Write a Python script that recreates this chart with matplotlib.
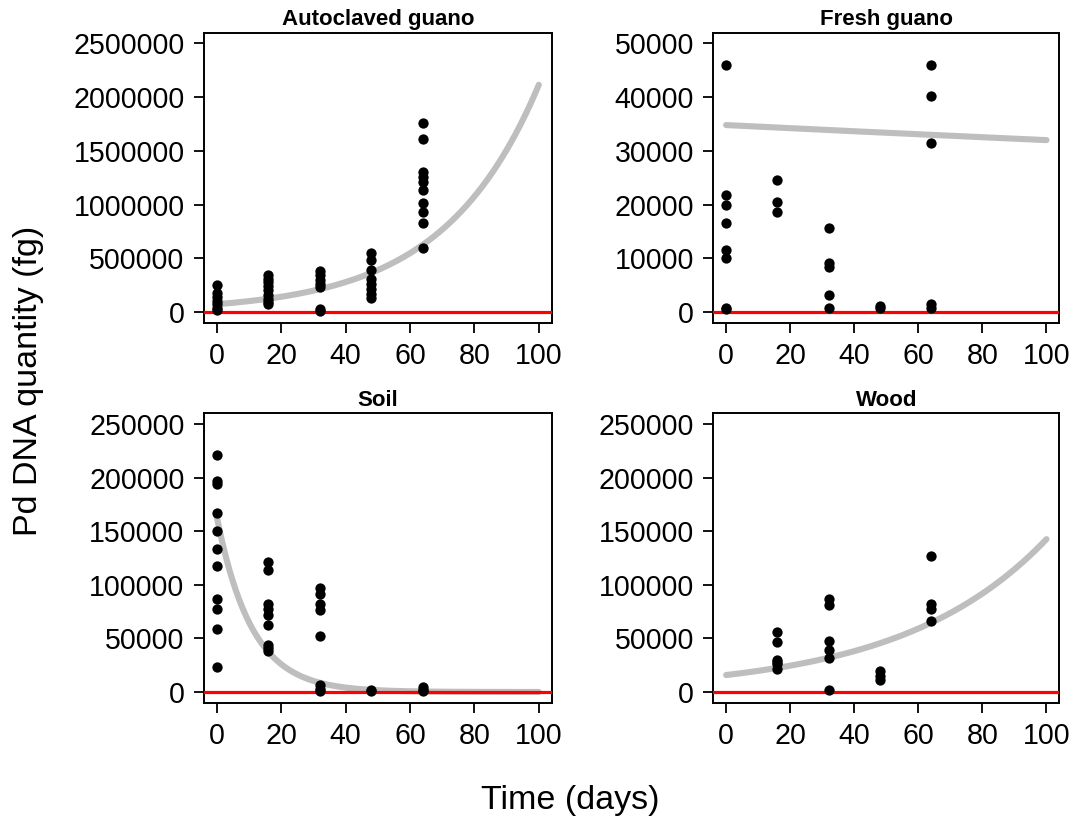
import numpy as np
import matplotlib
matplotlib.use("Agg")
import matplotlib.pyplot as plt

plt.rcParams['font.family'] = ['Liberation Sans', 'DejaVu Sans']

# ---------------- data ----------------
panel_titles = ["Autoclaved guano", "Fresh guano", "Soil", "Wood"]

auto_days = [0]*7 + [16]*9 + [32]*7 + [48]*8 + [64]*10
auto_vals = [255000, 180000, 135000, 100000, 70000, 40000, 15000,
             340000, 310000, 280000, 240000, 200000, 160000, 120000, 90000, 75000,
             380000, 340000, 300000, 260000, 230000, 30000, 5000,
             550000, 480000, 390000, 305000, 260000, 210000, 165000, 130000,
             1760000, 1610000, 1300000, 1255000, 1210000, 1140000, 1010000, 935000, 825000, 595000]

fresh_days = [0]*8 + [16]*3 + [32]*5 + [48]*2 + [64]*5
fresh_vals = [46000, 21800, 19900, 16500, 11600, 10000, 800, 500,
              24600, 20500, 18700,
              15600, 9100, 8400, 3100, 700,
              1200, 800,
              46000, 40200, 31500, 1500, 800]

soil_days = [0]*11 + [16]*9 + [32]*8 + [48]*2 + [64]*3
soil_vals = [221000, 197000, 194000, 166600, 150400, 133200, 117400, 87200, 77200, 59200, 23400,
             121400, 113600, 82500, 77800, 71600, 62300, 43600, 41400, 38300,
             97100, 91800, 82500, 76900, 52000, 6200, 3100, 500,
             2000, 500,
             4700, 2000, 500]

wood_days = [16]*6 + [32]*6 + [48]*3 + [64]*4
wood_vals = [56000, 46700, 30200, 28000, 26500, 21800,
             87200, 81600, 47600, 38900, 32100, 1600,
             19300, 15000, 11500,
             127000, 81900, 77800, 66300]

# fitted exponential model y = a * exp(b * t)
fit_a = [72000, 34800, 163000, 15800]
fit_b = [0.0338, -0.00084, -0.092, 0.0220]

y_max = [2500000, 50000, 250000, 250000]
y_step = [500000, 10000, 50000, 50000]
x_ticks = [0, 20, 40, 60, 80, 100]

days_all = [auto_days, fresh_days, soil_days, wood_days]
vals_all = [auto_vals, fresh_vals, soil_vals, wood_vals]

# ---------------- figure ----------------
W, H = 1087, 821
fig = plt.figure(figsize=(W/100, H/100), dpi=100)

def box(l, r, t, b):
    return [l/W, 1 - b/H, (r - l)/W, (b - t)/H]

rects = [box(204, 551.7, 32.7, 322.7), box(713.3, 1059.3, 32.7, 322.7),
         box(204, 551.7, 413.3, 702.7), box(713.3, 1059.3, 413.3, 702.7)]

tfs = 20.6
for i in range(4):
    ax = fig.add_axes(rects[i])
    t = np.linspace(0, 100, 300)
    ax.plot(t, fit_a[i]*np.exp(fit_b[i]*t), color='#BEBEBE', lw=4.4,
            solid_capstyle='round', zorder=2)
    ax.axhline(0, color='#FF0000', lw=2.3, zorder=3)
    ax.scatter(days_all[i], vals_all[i], s=55, color='black', zorder=4,
               linewidths=0)
    ax.set_xlim(-4, 104)
    ax.set_ylim(-0.04*y_max[i], 1.04*y_max[i])
    ax.set_xticks(x_ticks)
    ax.set_xticklabels([str(v) for v in x_ticks])
    yt = list(range(0, y_max[i] + 1, y_step[i]))
    ax.set_yticks(yt)
    ax.set_yticklabels([str(v) for v in yt])
    ax.tick_params(labelsize=tfs, length=7.5, width=1.3, pad=6.5, direction='out')
    for sp in ax.spines.values():
        sp.set_linewidth(1.4)
    ax.set_title(panel_titles[i], fontsize=16, fontweight='bold', pad=5.5)

fig.text(29/W, 1 - 381/H, "Pd DNA quantity (fg)", rotation=90, fontsize=24.5,
         ha='center', va='center')
fig.text(570/W, 1 - 800/H, "Time (days)", fontsize=24.5, ha='center', va='center')

fig.savefig("out.png", dpi=100)
